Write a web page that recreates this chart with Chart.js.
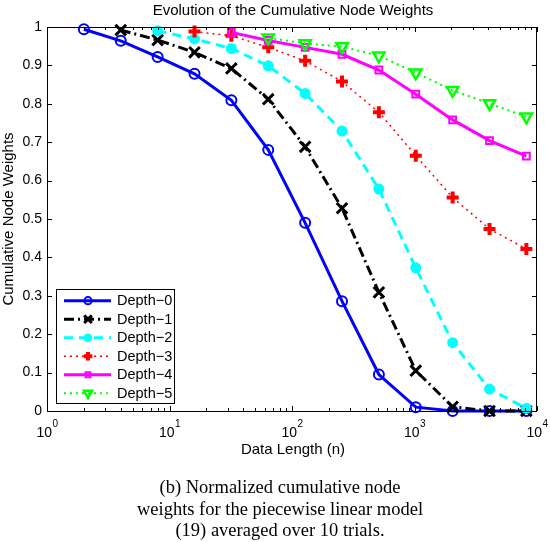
<!DOCTYPE html>
<html>
<head>
<meta charset="utf-8">
<script src="https://cdn.jsdelivr.net/npm/chart.js@4/dist/chart.umd.min.js"></script>
<style>
  body { margin: 0; background: #fff; }
  #wrap { position: relative; width: 550px; height: 542px; }
  #caption { position: absolute; left: 10px; width: 540px; top: 477px; text-align: center; font: 18.5px/21.5px "Liberation Serif", "Times New Roman", serif; color: #000; }
</style>
</head>
<body>
<div id="wrap">
  <canvas id="c" width="550" height="542"></canvas>
  <div id="caption">(b) Normalized cumulative node<br>weights for the piecewise linear model<br>(19) averaged over 10 trials.</div>
</div>
<script>
// Data (x = data length n, powers of two)
const lengths = [2, 4, 8, 16, 32, 64, 128, 256, 512, 1024, 2048, 4096, 8192]
const depth0 = [0.994, 0.964, 0.922, 0.878, 0.809, 0.680, 0.490, 0.286, 0.095, 0.010, 0.0, 0.0, 0.0]
const depth1 = [0.992, 0.966, 0.934, 0.892, 0.812, 0.688, 0.528, 0.309, 0.105, 0.011, 0.0, 0.0]
const depth2 = [0.990, 0.969, 0.944, 0.899, 0.827, 0.729, 0.578, 0.373, 0.178, 0.057, 0.007]
const depth3 = [0.988, 0.977, 0.947, 0.912, 0.858, 0.778, 0.665, 0.556, 0.474, 0.422]
const depth4 = [0.986, 0.965, 0.947, 0.929, 0.888, 0.825, 0.758, 0.704, 0.664]
const depth5 = [0.972, 0.957, 0.949, 0.925, 0.881, 0.835, 0.801, 0.766]
const seriesNames = ['Depth\u22120', 'Depth\u22121', 'Depth\u22122', 'Depth\u22123', 'Depth\u22124', 'Depth\u22125']
const yTicks = [0, 0.1, 0.2, 0.3, 0.4, 0.5, 0.6, 0.7, 0.8, 0.9, 1]
const xDecades = [0, 1, 2, 3, 4]

const SANS = '"Liberation Sans", Arial, Helvetica, sans-serif'

// each series starts later on the length axis, but ends at the last length
const toPoints = vals => {
  const off = lengths.length - vals.length
  return vals.map((v, i) => ({ x: lengths[off + i], y: v }))
}

const styles = [
  { color: '#0000ff', width: 3, dash: [], point: 'circle', r: 5, pw: 2, fill: false },
  { color: '#000000', width: 3, dash: [10, 4, 2, 4], point: 'crossRot', r: 7.5, pw: 3, fill: false },
  { color: '#00ffff', width: 3, dash: [9, 6], point: 'circle', r: 4.5, pw: 2, fill: true },
  { color: '#ff0000', width: 1.5, dash: [2, 4], point: 'cross', r: 6, pw: 4, fill: false },
  { color: '#ff00ff', width: 3, dash: [], point: 'rect', r: 4.8, pw: 2, fill: false },
  { color: '#00ff00', width: 2, dash: [2, 4], point: 'triangle', r: 6.5, pw: 2.5, fill: false, rot: 180 }
]
const allSeries = [depth0, depth1, depth2, depth3, depth4, depth5]

const datasets = allSeries.map((vals, i) => {
  const s = styles[i]
  return {
    label: seriesNames[i],
    data: toPoints(vals),
    borderColor: s.color,
    borderWidth: s.width,
    borderDash: s.dash,
    pointStyle: s.point,
    pointRadius: s.r,
    pointBorderWidth: s.pw,
    pointBorderColor: s.color,
    pointBackgroundColor: s.fill ? s.color : 'rgba(0,0,0,0)',
    pointRotation: s.rot || 0,
    tension: 0,
    fill: false,
    clip: false,
    order: 5 - i
  }
})

// small marker painter for the legend
function drawMarker(ctx, s, x, y, k) {
  const r = s.r * k
  ctx.save()
  ctx.setLineDash([])
  ctx.strokeStyle = s.color
  ctx.fillStyle = s.color
  ctx.lineWidth = s.pw
  ctx.beginPath()
  if (s.point === 'circle') {
    ctx.arc(x, y, r, 0, Math.PI * 2)
    if (s.fill) ctx.fill()
  } else if (s.point === 'crossRot') {
    const o = r * Math.SQRT1_2
    ctx.moveTo(x - o, y - o); ctx.lineTo(x + o, y + o)
    ctx.moveTo(x - o, y + o); ctx.lineTo(x + o, y - o)
  } else if (s.point === 'cross') {
    ctx.moveTo(x - r, y); ctx.lineTo(x + r, y)
    ctx.moveTo(x, y - r); ctx.lineTo(x, y + r)
  } else if (s.point === 'rect') {
    const h = r * Math.SQRT1_2
    ctx.rect(x - h, y - h, 2 * h, 2 * h)
  } else if (s.point === 'triangle') {
    ctx.moveTo(x, y + r)
    ctx.lineTo(x - r * 0.866, y - r / 2)
    ctx.lineTo(x + r * 0.866, y - r / 2)
    ctx.closePath()
  }
  ctx.stroke()
  ctx.restore()
}

// box, inward ticks, x tick labels, titles and legend (MATLAB look)
const matlabAxes = {
  id: 'matlabAxes',
  afterDraw(chart) {
    const { ctx, chartArea: a, scales: { x, y } } = chart
    ctx.save()
    ctx.strokeStyle = '#000'
    ctx.lineWidth = 1
    ctx.setLineDash([])

    ctx.beginPath()
    xDecades.forEach(k => {
      const px = Math.round(x.getPixelForValue(Math.pow(10, k))) + 0.5
      ctx.moveTo(px, a.bottom); ctx.lineTo(px, a.bottom - 5)
      ctx.moveTo(px, a.top); ctx.lineTo(px, a.top + 5)
      if (k < 4) {
        for (let m = 2; m < 10; m++) {
          const mx = Math.round(x.getPixelForValue(m * Math.pow(10, k))) + 0.5
          ctx.moveTo(mx, a.bottom); ctx.lineTo(mx, a.bottom - 3)
          ctx.moveTo(mx, a.top); ctx.lineTo(mx, a.top + 3)
        }
      }
    })
    yTicks.forEach(v => {
      const py = Math.round(y.getPixelForValue(v)) + 0.5
      ctx.moveTo(a.left, py); ctx.lineTo(a.left + 5, py)
      ctx.moveTo(a.right, py); ctx.lineTo(a.right - 5, py)
    })
    ctx.stroke()
    ctx.strokeRect(a.left + 0.5, a.top + 0.5, a.right - a.left - 1, a.bottom - a.top)

    // x tick labels as 10 with a raised exponent
    ctx.fillStyle = '#000'
    ctx.textBaseline = 'alphabetic'
    xDecades.forEach(k => {
      const px = x.getPixelForValue(Math.pow(10, k))
      ctx.font = '14px ' + SANS
      const wb = ctx.measureText('10').width
      ctx.font = '10px ' + SANS
      const we = ctx.measureText(String(k)).width
      const left = px - (wb + we) / 2
      ctx.textAlign = 'left'
      ctx.font = '14px ' + SANS
      ctx.fillText('10', left, 437)
      ctx.font = '10px ' + SANS
      ctx.fillText(String(k), left + wb + 0.5, 427)
    })

    // titles
    ctx.font = '15px ' + SANS
    ctx.textAlign = 'center'
    ctx.fillText('Evolution of the Cumulative Node Weights', (a.left + a.right) / 2 + 1, 15)
    ctx.fillText('Data Length (n)', (a.left + a.right) / 2 + 1, 454)
    ctx.save()
    ctx.translate(13, (a.top + a.bottom) / 2)
    ctx.rotate(-Math.PI / 2)
    ctx.fillText('Cumulative Node Weights', 0, 0)
    ctx.restore()

    // legend in the lower left corner
    ctx.fillStyle = '#fff'
    ctx.fillRect(56, 289, 119, 115)
    ctx.strokeStyle = '#000'
    ctx.strokeRect(56.5, 289.5, 118, 114)
    chart.data.datasets.forEach((ds, i) => {
      const s = styles[i]
      const ly = 300.7 + i * 18.5
      ctx.save()
      ctx.strokeStyle = s.color
      ctx.lineWidth = s.width
      ctx.setLineDash(s.dash)
      ctx.beginPath()
      ctx.moveTo(64, ly); ctx.lineTo(111, ly)
      ctx.stroke()
      ctx.restore()
      drawMarker(ctx, s, 88, ly, 0.72)
      ctx.fillStyle = '#000'
      ctx.font = '14.5px ' + SANS
      ctx.textAlign = 'left'
      ctx.textBaseline = 'middle'
      ctx.fillText(ds.label, 117, ly + 0.5)
    })
    ctx.restore()
  }
}

const chart = new Chart(document.getElementById('c').getContext('2d'), {
  type: 'line',
  data: { datasets },
  options: {
    responsive: false,
    animation: false,
    layout: { padding: { top: 27, right: 13, left: 0, bottom: 0 } },
    plugins: { legend: { display: false }, title: { display: false }, tooltip: { enabled: false } },
    scales: {
      x: {
        type: 'logarithmic', min: 1, max: 10000,
        grid: { display: false, drawTicks: false },
        border: { display: false },
        ticks: { display: false },
        afterFit: s => { s.height = 131 }
      },
      y: {
        min: 0, max: 1,
        grid: { display: false, drawTicks: false },
        border: { display: false },
        ticks: {
          stepSize: 0.1, padding: 5, color: '#000',
          font: { family: SANS, size: 14 },
          callback: v => String(+v.toFixed(1))
        },
        afterFit: s => { s.width = 47 }
      }
    }
  },
  plugins: [matlabAxes]
})
</script>
</body>
</html>
